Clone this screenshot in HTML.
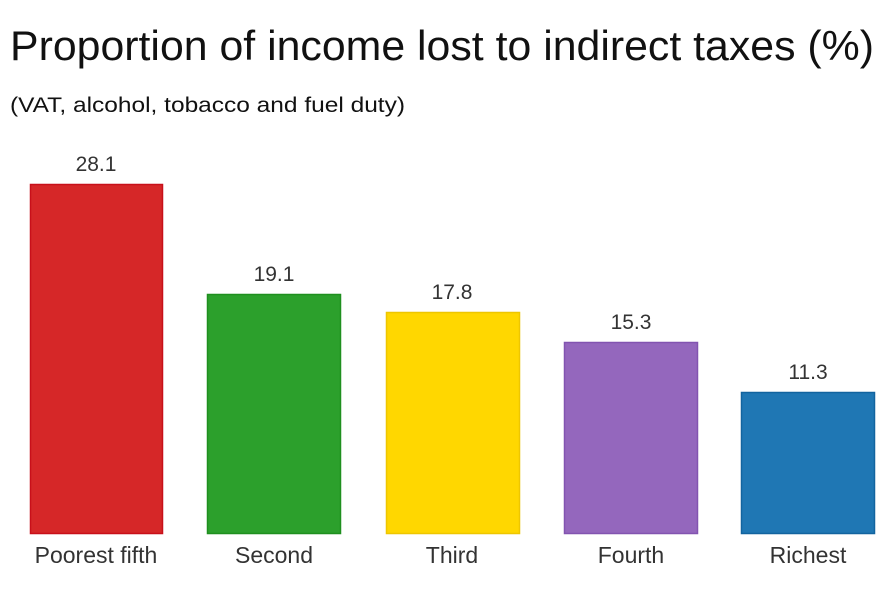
<!DOCTYPE html>
<html><head><meta charset="utf-8"><style>
body{margin:0;background:#fff;}
svg{display:block;font-family:"Liberation Sans",sans-serif;}
</style></head><body>
<svg width="892" height="592" viewBox="0 0 892 592">
<text x="10" y="60" font-size="42" fill="#111" textLength="864" lengthAdjust="spacingAndGlyphs">Proportion of income lost to indirect taxes (%)</text>
<text x="10" y="112" font-size="21" fill="#111" textLength="395" lengthAdjust="spacingAndGlyphs">(VAT, alcohol, tobacco and fuel duty)</text>
<g stroke-width="1.5">
<rect x="30.5" y="184.5" width="132" height="349" fill="#d62728" stroke="#c8101a"/>
<rect x="207.5" y="294.5" width="133" height="239" fill="#2ca02c" stroke="#1f8f1f"/>
<rect x="386.5" y="312.5" width="133" height="221" fill="#ffd700" stroke="#eec600"/>
<rect x="564.5" y="342.5" width="133" height="191" fill="#9467bd" stroke="#8254b0"/>
<rect x="741.5" y="392.5" width="133" height="141" fill="#1f77b4" stroke="#12649f"/>
</g>
<g font-size="21" fill="#333" text-anchor="middle">
<text x="96" y="171">28.1</text>
<text x="274" y="281">19.1</text>
<text x="452" y="299">17.8</text>
<text x="631" y="329">15.3</text>
<text x="808" y="379">11.3</text>
</g>
<g font-size="23" fill="#333" text-anchor="middle">
<text x="96" y="563">Poorest fifth</text>
<text x="274" y="563">Second</text>
<text x="452" y="563">Third</text>
<text x="631" y="563">Fourth</text>
<text x="808" y="563">Richest</text>
</g>
</svg>
</body></html>
